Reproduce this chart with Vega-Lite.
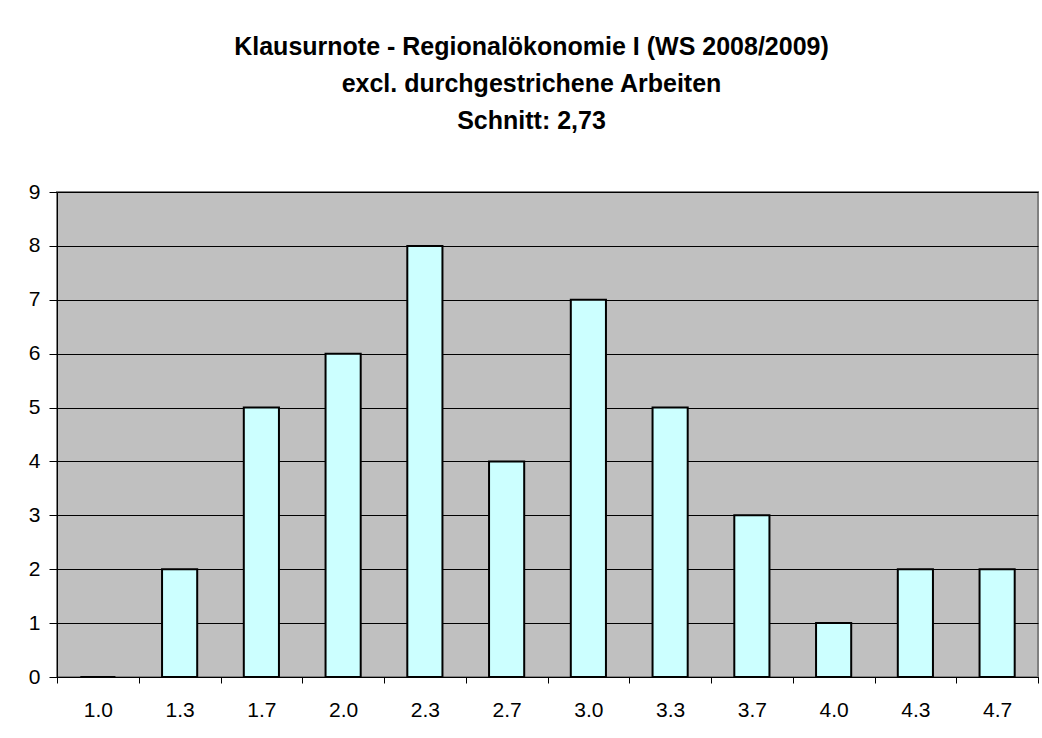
{
  "$schema": "https://vega.github.io/schema/vega-lite/v6.json",
  "autosize": {"type": "none"},
  "width": 981,
  "height": 485,
  "padding": {"left": 57, "top": 192, "right": 4, "bottom": 61},
  "background": "white",
  "title": {
    "text": ["Klausurnote - Regionalökonomie I (WS 2008/2009)", "excl. durchgestrichene Arbeiten", "Schnitt: 2,73"],
    "font": "Liberation Sans",
    "fontSize": 25,
    "fontWeight": "bold",
    "lineHeight": 37,
    "color": "black",
    "anchor": "middle",
    "dx": -16,
    "offset": 47
  },
  "data": {
    "values": [
      {"note": "1.0", "anzahl": 0},
      {"note": "1.3", "anzahl": 2},
      {"note": "1.7", "anzahl": 5},
      {"note": "2.0", "anzahl": 6},
      {"note": "2.3", "anzahl": 8},
      {"note": "2.7", "anzahl": 4},
      {"note": "3.0", "anzahl": 7},
      {"note": "3.3", "anzahl": 5},
      {"note": "3.7", "anzahl": 3},
      {"note": "4.0", "anzahl": 1},
      {"note": "4.3", "anzahl": 2},
      {"note": "4.7", "anzahl": 2}
    ]
  },
  "mark": {
    "type": "bar",
    "fill": "#CCFFFF",
    "stroke": "black",
    "strokeWidth": 2,
    "width": {"band": 0.43}
  },
  "encoding": {
    "x": {
      "field": "note",
      "type": "nominal",
      "sort": null,
      "scale": {"paddingInner": 0, "paddingOuter": 0},
      "axis": {
        "title": null,
        "labelAngle": 0,
        "tickBand": "extent",
        "tickSize": 6,
        "tickColor": "black",
        "domainColor": "black",
        "labelFont": "Liberation Sans",
        "labelFontSize": 21,
        "labelColor": "black",
        "labelPadding": 16,
        "grid": false
      }
    },
    "y": {
      "field": "anzahl",
      "type": "quantitative",
      "scale": {"domain": [0, 9], "nice": false},
      "axis": {
        "title": null,
        "values": [0, 1, 2, 3, 4, 5, 6, 7, 8, 9],
        "tickSize": 8,
        "tickColor": "black",
        "domainColor": "black",
        "grid": true,
        "gridColor": "black",
        "gridWidth": 1,
        "labelFont": "Liberation Sans",
        "labelFontSize": 21,
        "labelColor": "black",
        "labelPadding": 9
      }
    }
  },
  "config": {
    "view": {"fill": "#C0C0C0", "stroke": "#808080", "strokeWidth": 2}
  }
}
